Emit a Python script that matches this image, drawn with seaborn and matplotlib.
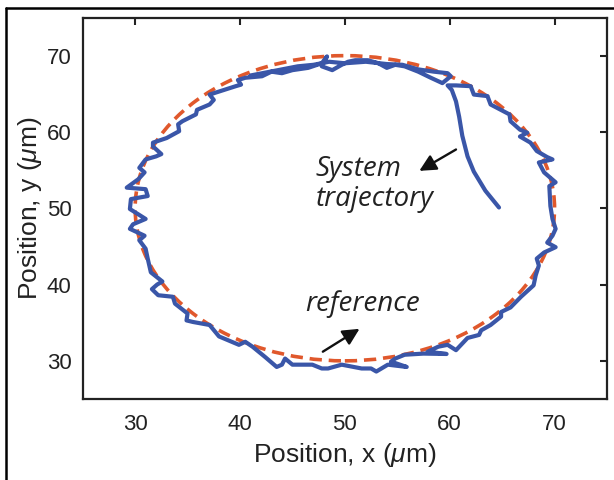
import matplotlib
matplotlib.use("Agg")
import matplotlib.pyplot as plt
import seaborn as sns
from matplotlib.patches import Circle
from matplotlib.lines import Line2D

# ------------------------------
# data
# ------------------------------
# tail of the trajectory (start at 65, 50) then around the circle clockwise
traj_x = [64.7, 63.4, 62.3, 61.7, 61.2, 60.9, 60.6, 60.2, 59.8,
          60.6, 62.0, 62.3, 63.6, 63.9, 65.7, 65.8, 66.7, 67.4, 66.7, 67.7,
          68.3, 69.3, 69.8, 68.5, 69.0, 70.1, 69.5, 69.6, 69.8, 70.1, 69.8,
          69.3, 70.1, 69.0, 68.3, 68.5, 68.2, 68.0, 66.8, 65.8, 64.9, 64.9,
          63.9, 63.0, 62.8, 61.7, 60.6, 59.8, 58.9, 57.9, 59.7, 57.5, 55.7,
          54.8, 54.4, 55.9, 54.1, 53.0, 52.5, 51.6, 49.7, 48.4, 47.8, 46.9,
          45.0, 44.3, 44.0, 43.5, 42.4, 41.2, 40.5, 39.9, 38.0, 37.1, 35.5,
          34.9, 35.0, 33.8, 33.6, 32.2, 31.6, 32.1, 32.6, 31.5, 31.2, 31.0,
          30.4, 30.9, 29.5, 29.8, 31.0, 29.5, 29.6, 31.2, 31.0, 29.2, 30.3,
          30.9, 30.4, 31.0, 32.0, 32.5, 31.7, 31.7, 33.0, 34.2, 34.1, 34.5,
          35.8, 35.9, 37.1, 37.5, 37.1, 38.0, 39.6, 40.1, 39.8, 40.5, 42.1,
          42.4, 43.0, 44.0, 45.0, 46.5, 47.8, 48.3, 47.8, 48.8, 49.7, 50.3,
          51.0, 52.2, 53.2, 54.0, 54.8, 55.7, 57.0, 58.2, 59.3, 60.1, 59.8,
          58.5, 57.0, 55.5, 54.0, 52.0, 50.0, 48.5, 47.0, 45.5, 44.0, 42.5,
          41.0]
traj_y = [50.1, 52.3, 54.8, 56.8, 59.5, 62.0, 64.0, 65.5, 66.1,
          66.1, 66.0, 64.9, 64.7, 63.6, 62.3, 61.4, 60.3, 59.9, 59.4, 58.6,
          57.5, 56.7, 56.4, 56.0, 54.7, 53.4, 52.9, 50.3, 48.6, 47.3, 46.4,
          45.5, 44.9, 44.2, 43.4, 42.5, 41.2, 39.9, 38.4, 37.0, 36.4, 35.8,
          34.7, 34.0, 33.4, 33.0, 31.4, 32.1, 31.85, 31.2, 30.9, 30.95, 30.8,
          30.3, 29.9, 29.2, 29.5, 28.6, 29.0, 29.0, 29.5, 29.0, 29.0, 29.5,
          29.5, 30.3, 29.5, 29.2, 30.5, 31.85, 32.5, 32.1, 33.2, 34.7, 35.1,
          35.3, 36.2, 37.5, 38.4, 38.6, 39.4, 40.0, 40.4, 41.6, 43.4, 44.7,
          45.8, 46.4, 47.3, 47.9, 48.6, 49.9, 51.2, 51.6, 52.5, 52.7, 53.8,
          54.7, 55.3, 56.4, 56.8, 57.1, 58.1, 58.6, 59.2, 60.1, 61.0, 61.4,
          62.3, 62.9, 63.6, 64.2, 64.9, 65.3, 66.0, 66.2, 66.8, 67.1, 67.3,
          67.5, 67.9, 67.7, 68.1, 68.4, 69.0, 69.9, 68.6, 68.1, 68.8, 69.2,
          69.4, 69.4, 69.0, 68.4, 68.8, 68.6, 67.9, 67.1, 66.4, 67.3, 67.7,
          67.9, 68.2, 68.8, 68.9, 69.2, 69.0, 69.2, 68.8, 68.6, 68.2, 67.8,
          67.4]

ref_center = (50, 50)
ref_radius = 20

ticks = [30, 40, 50, 60, 70]

# ------------------------------
# style
# ------------------------------
sns.set_style("white")
plt.rcParams['font.family'] = ['Liberation Sans', 'DejaVu Sans']
plt.rcParams['mathtext.fontset'] = 'custom'
plt.rcParams['mathtext.it'] = 'Liberation Sans:italic'
plt.rcParams['mathtext.rm'] = 'Liberation Sans'

blue = "#3A56A8"
orange = "#E0582C"
ink = '#222222'

fig = plt.figure(figsize=(6.14, 4.8), dpi=100)
ax = fig.add_axes([82.7 / 614, 1 - 399 / 480, (607 - 82.7) / 614, (399 - 17.5) / 480])

# reference circle
ax.add_patch(Circle(ref_center, ref_radius, fill=False, ec=orange, lw=2.6,
                    ls=(0, (3.4, 1.9)), zorder=2))

# trajectory
sns.lineplot(x=traj_x, y=traj_y, sort=False, estimator=None, color=blue,
             lw=3.0, ax=ax, zorder=3, solid_joinstyle='round', solid_capstyle='round')

ax.set_xlim(25, 75)
ax.set_ylim(25, 75)
ax.set_xticks(ticks)
ax.set_yticks(ticks)
ax.tick_params(direction='in', length=5, width=1.5, top=True, right=True,
               labelsize=16, colors=ink)
ax.tick_params(axis='x', pad=11)
ax.tick_params(axis='y', pad=8)
for s in ax.spines.values():
    s.set_linewidth(1.6)
    s.set_color(ink)

ax.set_xlabel(r"Position, x ($\mathit{\mu}$m)", fontsize=19, color=ink, labelpad=4)
ax.set_ylabel(r"Position, y ($\mathit{\mu}$m)", fontsize=19, color=ink, labelpad=2)

# annotations
ax.text(47.2, 53.2, "System\ntrajectory", fontsize=20, style='italic',
        family='Open Sans', ha='left', va='center', color=ink, linespacing=1.1)
ax.text(46.2, 37.5, "reference", fontsize=20, style='italic',
        family='Open Sans', ha='left', va='center', color=ink)

arrow = dict(arrowstyle='-|>,head_length=1.0,head_width=0.5', lw=1.7,
             color='#111111', shrinkA=0, shrinkB=0)
ax.annotate("", xy=(57.1, 54.9), xytext=(60.6, 57.7), arrowprops=arrow)
ax.annotate("", xy=(51.4, 34.2), xytext=(47.9, 31.2), arrowprops=arrow)

# outer frame (left and top edge)
fig.add_artist(Line2D([5.5 / 614, 5.5 / 614], [0, 1 - 8 / 480], color='black', lw=1.8))
fig.add_artist(Line2D([5.5 / 614, 1], [1 - 8 / 480, 1 - 8 / 480], color='black', lw=1.8))

fig.savefig("out.png", dpi=100)
